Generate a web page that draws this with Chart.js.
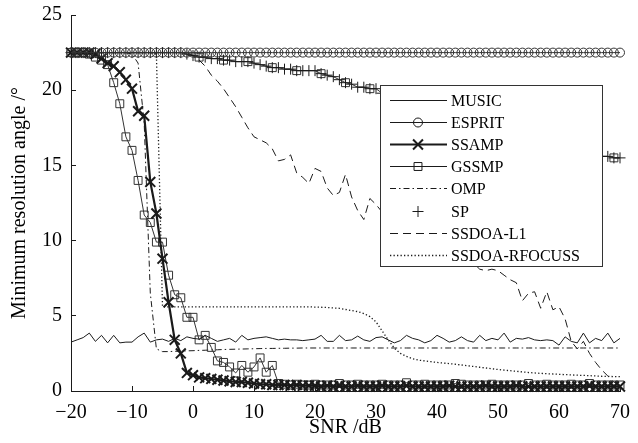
<!DOCTYPE html>
<html>
<head>
<meta charset="utf-8">
<script src="https://cdn.jsdelivr.net/npm/chart.js@4/dist/chart.umd.min.js"></script>
<style>
  html, body { margin: 0; padding: 0; background: #fff; }
  canvas { display: block; }
</style>
</head>
<body>
<canvas id="chart" width="638" height="443"></canvas>
<script>
const snr = [
  -20, -19, -18, -17, -16, -15, -14, -13, -12, -11,
  -10, -9, -8, -7, -6, -5, -4, -3, -2, -1,
  0, 1, 2, 3, 4, 5, 6, 7, 8, 9,
  10, 11, 12, 13, 14, 15, 16, 17, 18, 19,
  20, 21, 22, 23, 24, 25, 26, 27, 28, 29,
  30, 31, 32, 33, 34, 35, 36, 37, 38, 39,
  40, 41, 42, 43, 44, 45, 46, 47, 48, 49,
  50, 51, 52, 53, 54, 55, 56, 57, 58, 59,
  60, 61, 62, 63, 64, 65, 66, 67, 68, 69,
  70,
]

const music = [
  3.25, 3.4, 3.55, 3.85, 3.3, 3.7, 3.2, 3.7, 3.2, 3.25,
  3.25, 3.6, 3.85, 3.25, 3.4, 3.45, 3.3, 3.5, 3.35, 3.6,
  3.5, 3.45, 3.7, 3.5, 3.3, 3.4, 3.5, 3.25, 3.7, 3.4,
  3.5, 3.55, 3.6, 3.5, 3.4, 3.45, 3.4, 3.4, 3.35, 3.4,
  3.45, 3.7, 3.3, 3.3, 3.7, 3.35, 3.4, 3.65, 3.4, 3.3,
  3.55, 3.6, 3.4, 3.2, 3.35, 3.7, 3.5, 3.4, 3.2, 3.35,
  3.7, 3.5, 3.25, 3.35, 3.6, 3.35, 3.25, 3.7, 3.35, 3.5,
  3.4, 3.85, 3.25, 3.5, 3.45, 3.55, 3.4, 3.35, 3.4, 3.35,
  3.05, 3.6, 3.3, 3.2, 3.85, 3.2, 3.5, 3.35, 3.85, 3.2,
  3.5,
]

const esprit = [
  22.5, 22.5, 22.5, 22.5, 22.5, 22.5, 22.5, 22.5, 22.5, 22.5,
  22.5, 22.5, 22.5, 22.5, 22.5, 22.5, 22.5, 22.5, 22.5, 22.5,
  22.5, 22.5, 22.5, 22.5, 22.5, 22.5, 22.5, 22.5, 22.5, 22.5,
  22.5, 22.5, 22.5, 22.5, 22.5, 22.5, 22.5, 22.5, 22.5, 22.5,
  22.5, 22.5, 22.5, 22.5, 22.5, 22.5, 22.5, 22.5, 22.5, 22.5,
  22.5, 22.5, 22.5, 22.5, 22.5, 22.5, 22.5, 22.5, 22.5, 22.5,
  22.5, 22.5, 22.5, 22.5, 22.5, 22.5, 22.5, 22.5, 22.5, 22.5,
  22.5, 22.5, 22.5, 22.5, 22.5, 22.5, 22.5, 22.5, 22.5, 22.5,
  22.5, 22.5, 22.5, 22.5, 22.5, 22.5, 22.5, 22.5, 22.5, 22.5,
  22.5,
]

const ssamp = [
  22.5, 22.5, 22.5, 22.5, 22.4, 22.1, 21.8, 21.6, 21.2, 20.7,
  20.1, 18.6, 18.3, 13.9, 11.8, 8.8, 5.9, 3.4, 2.5, 1.2,
  1.05, 0.9, 0.85, 0.8, 0.75, 0.7, 0.65, 0.6, 0.6, 0.55,
  0.5, 0.45, 0.45, 0.4, 0.4, 0.4, 0.35, 0.4, 0.35, 0.35,
  0.35, 0.3, 0.35, 0.3, 0.35, 0.3, 0.3, 0.35, 0.3, 0.3,
  0.3, 0.35, 0.3, 0.3, 0.3, 0.35, 0.3, 0.3, 0.3, 0.3,
  0.3, 0.3, 0.35, 0.3, 0.3, 0.3, 0.3, 0.3, 0.35, 0.3,
  0.3, 0.3, 0.3, 0.35, 0.3, 0.3, 0.3, 0.3, 0.3, 0.3,
  0.3, 0.3, 0.3, 0.3, 0.3, 0.35, 0.3, 0.3, 0.3, 0.3,
  0.3,
]

const gssmp = [
  22.5, 22.5, 22.5, 22.4, 22.2, 22.0, 21.7, 20.5, 19.1, 16.9,
  16.0, 14.0, 11.7, 11.2, 9.9, 9.9, 7.7, 6.4, 6.2, 4.9,
  4.9, 3.4, 3.7, 2.9, 2.0, 1.9, 1.6, 1.2, 1.7, 1.25,
  1.6, 2.2, 1.25, 1.7, 0.5, 0.45, 0.4, 0.45, 0.4, 0.4,
  0.45, 0.4, 0.4, 0.4, 0.5, 0.4, 0.4, 0.45, 0.4, 0.4,
  0.4, 0.45, 0.4, 0.4, 0.4, 0.55, 0.4, 0.4, 0.45, 0.4,
  0.4, 0.4, 0.4, 0.5, 0.45, 0.4, 0.4, 0.4, 0.4, 0.45,
  0.4, 0.4, 0.4, 0.4, 0.4, 0.5, 0.4, 0.4, 0.45, 0.4,
  0.4, 0.4, 0.45, 0.4, 0.4, 0.5, 0.4, 0.4, 0.4, 0.4,
  0.4,
]

const omp = [
  22.5, 22.5, 22.5, 22.5, 22.5, 22.5, 22.5, 22.5, 22.5, 22.5,
  22.4, 21.8, 17.8, 6.5, 2.8, 2.62, 2.62, 2.64, 2.65, 2.67,
  2.68, 2.7, 2.71, 2.73, 2.74, 2.76, 2.77, 2.78, 2.79, 2.8,
  2.81, 2.82, 2.83, 2.83, 2.84, 2.84, 2.85, 2.85, 2.86, 2.86,
  2.86, 2.86, 2.86, 2.86, 2.86, 2.86, 2.86, 2.86, 2.86, 2.86,
  2.86, 2.86, 2.86, 2.86, 2.86, 2.86, 2.86, 2.86, 2.86, 2.86,
  2.86, 2.86, 2.86, 2.86, 2.86, 2.86, 2.86, 2.86, 2.86, 2.86,
  2.86, 2.86, 2.86, 2.86, 2.86, 2.86, 2.86, 2.86, 2.86, 2.86,
  2.86, 2.86, 2.86, 2.86, 2.86, 2.86, 2.86, 2.86, 2.86, 2.86,
  2.86,
]

const sp = [
  22.5, 22.5, 22.5, 22.5, 22.5, 22.5, 22.5, 22.5, 22.5, 22.5,
  22.5, 22.5, 22.5, 22.5, 22.5, 22.5, 22.5, 22.5, 22.5, 22.4,
  22.3, 22.2, 22.2, 22.1, 22.1, 22.0, 22.0, 21.9, 21.9, 21.9,
  21.8, 21.7, 21.6, 21.5, 21.5, 21.4, 21.4, 21.3, 21.3, 21.3,
  21.3, 21.1, 21.0, 20.9, 20.7, 20.5, 20.4, 20.2, 20.2, 20.1,
  20.1, 19.8, 19.6, 19.5, 19.2, 19.1, 18.8, 18.6, 18.5, 18.2,
  18.0, 17.9, 17.7, 17.6, 17.4, 17.3, 17.1, 17.0, 16.9, 16.8,
  16.7, 16.6, 16.5, 16.4, 16.3, 16.3, 16.2, 16.1, 16.1, 16.0,
  16.0, 15.9, 15.9, 15.8, 15.8, 15.7, 15.7, 15.6, 15.6, 15.5,
  15.5,
]

const ssdoaL1 = [
  22.5, 22.5, 22.5, 22.5, 22.5, 22.5, 22.5, 22.5, 22.5, 22.5,
  22.5, 22.5, 22.5, 22.5, 22.5, 22.5, 22.5, 22.5, 22.5, 22.5,
  22.3, 22.0, 21.6, 21.0, 20.6, 20.1, 19.5, 18.9, 18.2, 17.5,
  16.9, 16.7, 16.5, 16.1, 15.3, 15.4, 15.7, 14.5, 14.2, 13.8,
  14.8, 14.6, 13.5, 13.0, 13.2, 14.4, 12.9, 12.0, 11.4, 12.8,
  12.4, 11.9, 12.3, 11.5, 11.0, 11.3, 10.6, 10.2, 10.5, 9.9,
  9.6, 9.8, 9.3, 9.0, 9.1, 8.7, 8.5, 8.1, 8.0, 8.1,
  8.0, 7.7, 7.4, 7.2, 6.0, 6.5, 6.6, 5.5, 6.6, 5.4,
  5.6, 4.8, 3.3, 2.8, 3.3, 2.5, 1.9, 1.4, 1.0, 0.6,
  0.4,
]

const ssdoaRfocuss = [
  22.5, 22.5, 22.5, 22.5, 22.5, 22.5, 22.5, 22.5, 22.5, 22.5,
  22.5, 22.5, 22.5, 22.5, 22.4, 5.6, 5.6, 5.6, 5.6, 5.6,
  5.6, 5.6, 5.6, 5.6, 5.6, 5.6, 5.6, 5.6, 5.6, 5.6,
  5.6, 5.6, 5.6, 5.6, 5.6, 5.6, 5.6, 5.6, 5.6, 5.6,
  5.58, 5.57, 5.55, 5.52, 5.5, 5.42, 5.35, 5.28, 5.15, 4.95,
  4.6, 4.0, 3.4, 2.85, 2.5, 2.3, 2.15, 2.05, 2.0, 1.95,
  1.9, 1.86, 1.82, 1.78, 1.73, 1.68, 1.63, 1.58, 1.53, 1.48,
  1.43, 1.39, 1.35, 1.31, 1.27, 1.23, 1.2, 1.17, 1.15, 1.13,
  1.11, 1.09, 1.07, 1.05, 1.04, 1.02, 1.0, 0.98, 0.97, 0.96,
  0.95,
]

const xTickValues = [-20, -10, 0, 10, 20, 30, 40, 50, 60, 70]
const xTickLabels = ['\u221220', '\u221210', '0', '10', '20', '30', '40', '50', '60', '70']
const yTickLabels = ['0', '5', '10', '15', '20', '25']

const serif = "'Liberation Serif', 'Times New Roman', serif"
const ink = '#1a1a1a'
const none = 'rgba(0,0,0,0)'

const pts = ys => snr.map((x, i) => ({ x, y: ys[i] }))

const series = (label, ys, extra) => Object.assign({
  label,
  data: pts(ys),
  borderColor: ink,
  backgroundColor: none,
  pointBorderColor: ink,
  pointBackgroundColor: none,
  borderWidth: 1,
  pointBorderWidth: 1,
  pointRadius: 0,
  tension: 0,
  clip: false,
}, extra)

// markers drawn by hand for the legend box
const drawMarker = (ctx, style, r, x, y) => {
  ctx.beginPath()
  if (style === 'circle') {
    ctx.arc(x, y, r, 0, Math.PI * 2)
  } else if (style === 'rect') {
    const s = r * Math.SQRT1_2
    ctx.rect(x - s, y - s, 2 * s, 2 * s)
  } else if (style === 'cross') {
    ctx.moveTo(x - r, y); ctx.lineTo(x + r, y)
    ctx.moveTo(x, y - r); ctx.lineTo(x, y + r)
  } else if (style === 'crossRot') {
    const d = r * Math.SQRT1_2
    ctx.moveTo(x - d, y - d); ctx.lineTo(x + d, y + d)
    ctx.moveTo(x - d, y + d); ctx.lineTo(x + d, y - d)
  }
  ctx.stroke()
}

const boxLegend = {
  id: 'boxLegend',
  afterDatasetsDraw(chart) {
    const { ctx, chartArea } = chart
    const left = chartArea.left + 309
    const top = chartArea.top + 70
    const w = 222
    const h = 181
    ctx.save()
    ctx.fillStyle = '#fff'
    ctx.fillRect(left, top, w, h)
    ctx.strokeStyle = '#333'
    ctx.lineWidth = 1
    ctx.setLineDash([])
    ctx.strokeRect(left + 0.5, top + 0.5, w, h)

    ctx.font = '16px ' + serif
    ctx.textBaseline = 'middle'
    ctx.textAlign = 'left'
    chart.data.datasets.filter(d => !d.hideInLegend).forEach((d, i) => {
      const y = Math.round(top + 15 + i * 22.1) + 0.5
      ctx.strokeStyle = ink
      if (d.showLine !== false) {
        ctx.lineWidth = d.borderWidth
        ctx.setLineDash(d.borderDash || [])
        ctx.beginPath()
        ctx.moveTo(left + 10, y)
        ctx.lineTo(left + 67, y)
        ctx.stroke()
      }
      if (d.pointRadius > 0) {
        ctx.setLineDash([])
        ctx.lineWidth = d.pointBorderWidth
        drawMarker(ctx, d.pointStyle, d.pointRadius, left + 38, y)
      }
      ctx.fillStyle = '#000'
      ctx.fillText(d.label, left + 71, y + 1)
    })
    ctx.restore()
  },
}

new Chart(document.getElementById('chart'), {
  type: 'line',
  data: {
    datasets: [
      series('MUSIC', music),
      series('ESPRIT', esprit, { pointStyle: 'circle', pointRadius: 4.5, borderColor: '#333', pointBorderColor: '#333' }),
      series('SSAMP', ssamp, { pointStyle: 'crossRot', pointRadius: 7, borderWidth: 2.2, pointBorderWidth: 2 }),
      series('GSSMP', gssmp, { pointStyle: 'rect', pointRadius: 5.6, borderColor: '#333', pointBorderColor: '#333' }),
      series('OMP', omp, { borderDash: [6, 3, 1.5, 3] }),
      series('SP', sp, { showLine: false, pointStyle: 'cross', pointRadius: 5.5 }),
      series('SSDOA-L1', ssdoaL1, { borderDash: [8, 5] }),
      series('SSDOA-RFOCUSS', ssdoaRfocuss, { borderDash: [1.3, 2.2], borderWidth: 1.3 }),
      // upper square-marked curve that runs with the SP crosses
      series('', sp, {
        hideInLegend: true,
        pointStyle: 'rect',
        borderColor: '#333',
        pointBorderColor: '#333',
        pointRadius: c => (snr[c.dataIndex] > 0 && snr[c.dataIndex] % 4 === 1 ? 5.6 : 0),
      }),
    ],
  },
  options: {
    responsive: false,
    devicePixelRatio: 1,
    animation: false,
    events: [],
    layout: { padding: { left: 0, right: 18, top: 15, bottom: 0 } },
    plugins: { legend: { display: false }, tooltip: { enabled: false } },
    scales: {
      x: {
        type: 'linear',
        min: -20,
        max: 70,
        afterFit: s => {
          s.height = 52
          s.paddingLeft = 0
          s.paddingRight = 0
        },
        afterBuildTicks: s => { s.ticks = xTickValues.map(value => ({ value })) },
        grid: { drawOnChartArea: false, tickLength: -5, color: ink, lineWidth: 1 },
        border: { display: true, color: ink, width: 1 },
        ticks: {
          padding: 15,
          maxRotation: 0,
          color: '#000',
          font: { family: serif, size: 20 },
          callback: v => xTickLabels[xTickValues.indexOf(v)],
        },
        title: {
          display: true,
          text: 'SNR /dB',
          color: '#000',
          font: { family: serif, size: 20 },
          padding: { top: 0, bottom: 3 },
        },
      },
      y: {
        type: 'linear',
        min: 0,
        max: 25,
        afterFit: s => {
          s.width = 71
          s.paddingTop = 0
          s.paddingBottom = 0
        },
        grid: { drawOnChartArea: false, tickLength: -5, color: ink, lineWidth: 1 },
        border: { display: true, color: ink, width: 1 },
        ticks: {
          stepSize: 5,
          padding: 14,
          color: '#000',
          font: { family: serif, size: 20 },
          callback: v => yTickLabels[v / 5],
        },
        title: {
          display: true,
          text: 'Minimum resolution angle /\u00b0',
          color: '#000',
          font: { family: serif, size: 20 },
          padding: { top: 8, bottom: 0 },
        },
      },
    },
  },
  plugins: [boxLegend],
})
</script>
</body>
</html>
